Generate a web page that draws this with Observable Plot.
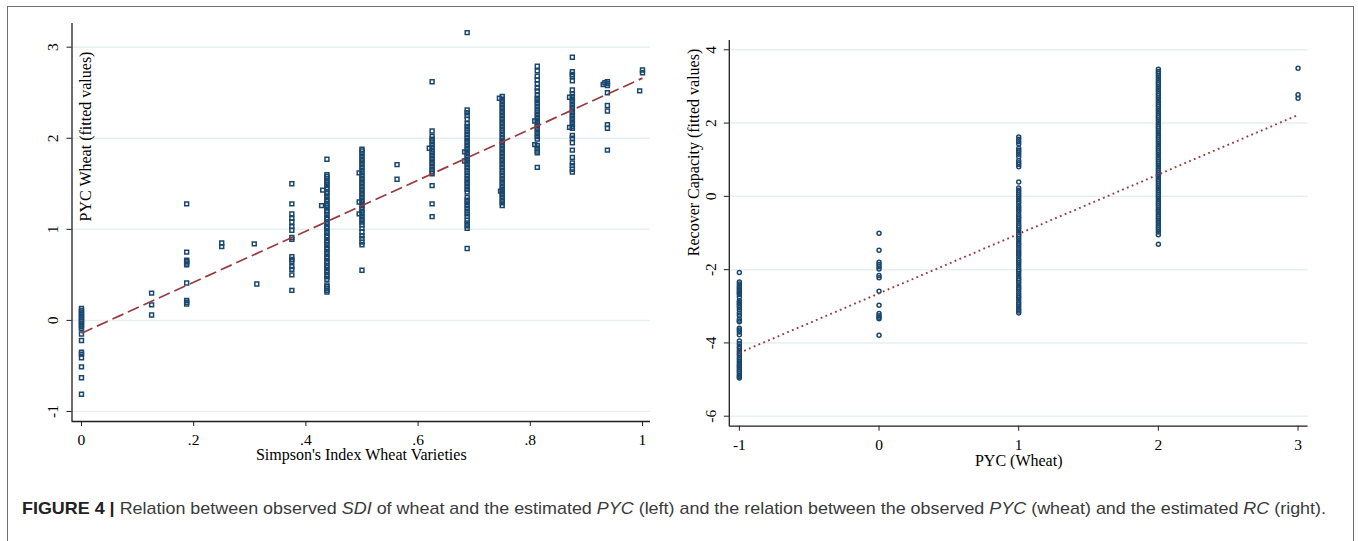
<!DOCTYPE html>
<html>
<head>
<meta charset="utf-8">
<script src="https://cdn.jsdelivr.net/npm/d3@7"></script>
<script src="https://cdn.jsdelivr.net/npm/@observablehq/plot@0.6"></script>
<style>
  html, body { margin: 0; padding: 0; background: #fff; }
  #root { position: relative; width: 1358px; height: 541px; overflow: hidden; }
  #border { position: absolute; left: 7px; top: 6px; width: 1347px; height: 560px; border: 1.5px solid #6f6f6f; box-sizing: border-box; }
  .panel { position: absolute; top: 0; }
  #caption { position: absolute; left: 22px; top: 499px; font-family: "Liberation Sans", Arial, sans-serif; font-size: 17px; color: #3a3a3a; white-space: nowrap; transform-origin: 0 0; }
  #caption b { color: #222; }
</style>
</head>
<body>
<div id="root">
  <div id="border"></div>
  <div id="left" class="panel" style="left:0px"></div>
  <div id="right" class="panel" style="left:678px"></div>
  <div id="caption"><b>FIGURE 4 |</b> Relation between observed <i>SDI</i> of wheat and the estimated <i>PYC</i> (left) and the relation between the observed <i>PYC</i> (wheat) and the estimated <i>RC</i> (right).</div>
</div>
<script>
// ---------- Left panel: SDI vs PYC (fitted) ----------
const leftTitleX = "Simpson's Index Wheat Varieties";
const leftTitleY = "PYC Wheat (fitted values)";
const leftXTicks = [0, 0.2, 0.4, 0.6, 0.8, 1];
const leftXTickLabels = ["0", ".2", ".4", ".6", ".8", "1"];
const leftYTicks = [-1, 0, 1, 2, 3];
const leftYTickLabels = ["-1", "0", "1", "2", "3"];
const leftCols = [0, 0.125, 0.1875, 0.25, 0.3125, 0.375, 0.4375, 0.5, 0.5625, 0.625, 0.6875, 0.75, 0.8125, 0.875, 0.9375, 1];
const leftVals = [
  [0.13, 0.11, 0.09, 0.07, 0.05, 0.03, 0.01, -0.01, -0.03, -0.05, -0.07, -0.09, -0.15, -0.22, -0.35, -0.37, -0.41, -0.51, -0.63, -0.81],
  [0.30, 0.17, 0.06],
  [1.28, 0.75, 0.66, 0.65, 0.63, 0.61, 0.41, 0.22, 0.20, 0.18],
  [0.85, 0.81],
  [0.40],
  [1.50, 1.28, 1.17, 1.12, 1.08, 1.03, 0.99, 0.91, 0.89, 0.70, 0.67, 0.65, 0.59, 0.56, 0.50, 0.33],
  [1.77, 1.60, 1.58, 1.56, 1.53, 1.51, 1.49, 1.46, 1.44, 1.41, 1.39, 1.36, 1.33, 1.31, 1.28, 1.26, 1.24, 1.21, 1.19, 1.16, 1.13, 1.11, 1.08, 1.06, 1.03, 1.01, 0.98, 0.96, 0.93, 0.91, 0.88, 0.86, 0.83, 0.80, 0.78, 0.75, 0.73, 0.70, 0.68, 0.65, 0.63, 0.60, 0.58, 0.55, 0.53, 0.50, 0.48, 0.45, 0.39, 0.37, 0.35, 0.33, 0.31],
  [1.88, 1.86, 1.83, 1.80, 1.77, 1.74, 1.71, 1.68, 1.65, 1.62, 1.59, 1.56, 1.53, 1.50, 1.47, 1.44, 1.41, 1.38, 1.35, 1.32, 1.29, 1.26, 1.23, 1.20, 1.17, 1.14, 1.11, 1.08, 1.05, 1.01, 0.97, 0.93, 0.90, 0.86, 0.83, 0.55],
  [1.71, 1.55],
  [2.62, 2.08, 2.02, 1.99, 1.96, 1.93, 1.90, 1.87, 1.84, 1.81, 1.78, 1.75, 1.72, 1.69, 1.66, 1.63, 1.61, 1.48, 1.28, 1.14],
  [3.16, 2.31, 2.28, 2.25, 2.21, 2.16, 2.13, 2.10, 2.07, 2.04, 2.01, 1.98, 1.95, 1.92, 1.89, 1.86, 1.83, 1.80, 1.77, 1.74, 1.71, 1.68, 1.65, 1.62, 1.59, 1.56, 1.53, 1.50, 1.47, 1.44, 1.41, 1.35, 1.32, 1.29, 1.26, 1.23, 1.20, 1.17, 1.14, 1.10, 1.07, 1.04, 1.01, 0.79],
  [2.46, 2.43, 2.40, 2.37, 2.34, 2.31, 2.28, 2.25, 2.22, 2.19, 2.16, 2.13, 2.10, 2.07, 2.04, 2.01, 1.98, 1.95, 1.92, 1.89, 1.86, 1.83, 1.80, 1.77, 1.74, 1.71, 1.68, 1.65, 1.62, 1.59, 1.56, 1.53, 1.50, 1.47, 1.44, 1.41, 1.38, 1.35, 1.32, 1.29, 1.26],
  [2.79, 2.74, 2.68, 2.64, 2.60, 2.55, 2.52, 2.47, 2.44, 2.41, 2.38, 2.35, 2.32, 2.29, 2.26, 2.23, 2.20, 2.17, 2.14, 2.11, 2.08, 2.05, 2.02, 1.99, 1.92, 1.89, 1.86, 1.84, 1.68],
  [2.89, 2.73, 2.70, 2.68, 2.63, 2.53, 2.49, 2.46, 2.43, 2.40, 2.37, 2.34, 2.31, 2.28, 2.25, 2.22, 2.19, 2.16, 2.13, 2.11, 2.03, 2.00, 1.95, 1.87, 1.79, 1.73, 1.70, 1.66, 1.63],
  [2.62, 2.60, 2.58, 2.50, 2.36, 2.30, 2.15, 2.11, 1.87],
  [2.75, 2.72]
];
// a few points that sit slightly off the main columns
const leftExtraX = [0.308, 0.43, 0.428, 0.495, 0.495, 0.495, 0.62, 0.683, 0.683, 0.745, 0.747, 0.808, 0.808, 0.87, 0.87, 0.933, 0.93, 0.995];
const leftExtraY = [0.84, 1.43, 1.26, 1.62, 1.30, 1.17, 1.89, 1.85, 1.75, 2.44, 1.42, 2.19, 1.93, 2.45, 2.12, 2.61, 2.59, 2.52];
const leftFitX = [0, 1];
const leftFitY = [-0.14, 2.66];

// ---------- Right panel: PYC vs RC (fitted) ----------
const rightTitleX = "PYC (Wheat)";
const rightTitleY = "Recover Capacity (fitted values)";
const rightXTicks = [-1, 0, 1, 2, 3];
const rightXTickLabels = ["-1", "0", "1", "2", "3"];
const rightYTicks = [-6, -4, -2, 0, 2, 4];
const rightYTickLabels = ["-6", "-4", "-2", "0", "2", "4"];
const rightCols = [-1, 0, 1, 2, 3];
const rightVals = [
  [-2.08, -2.34, -2.39, -2.45, -2.50, -2.55, -2.60, -2.64, -2.68, -2.75, -2.85, -2.89, -2.93, -2.98, -3.03, -3.10, -3.18, -3.25, -3.35, -3.40, -3.42, -3.60, -3.65, -3.70, -3.78, -3.95, -4.02, -4.10, -4.15, -4.22, -4.28, -4.33, -4.40, -4.46, -4.52, -4.58, -4.63, -4.68, -4.73, -4.78, -4.83, -4.88, -4.92, -4.96],
  [-1.01, -1.47, -1.80, -1.86, -1.92, -1.98, -2.16, -2.22, -2.59, -2.97, -3.20, -3.26, -3.30, -3.34, -3.79],
  [1.62, 1.56, 1.49, 1.43, 1.31, 1.26, 1.21, 1.15, 1.08, 0.98, 0.92, 0.87, 0.81, 0.39, 0.23, 0.17, 0.11, 0.05, -0.01, -0.07, -0.13, -0.19, -0.26, -0.32, -0.37, -0.43, -0.50, -0.56, -0.61, -0.67, -0.74, -0.80, -0.85, -0.91, -0.98, -1.04, -1.09, -1.15, -1.22, -1.28, -1.33, -1.39, -1.46, -1.52, -1.57, -1.63, -1.70, -1.76, -1.81, -1.87, -1.94, -2.00, -2.05, -2.11, -2.18, -2.24, -2.29, -2.35, -2.42, -2.48, -2.53, -2.59, -2.66, -2.72, -2.77, -2.83, -2.90, -2.96, -3.02, -3.08, -3.13, -3.18],
  [3.47, 3.41, 3.35, 3.29, 3.23, 3.17, 3.11, 3.05, 2.99, 2.93, 2.87, 2.81, 2.75, 2.69, 2.63, 2.57, 2.51, 2.45, 2.39, 2.33, 2.27, 2.21, 2.15, 2.09, 2.03, 1.97, 1.91, 1.85, 1.79, 1.73, 1.67, 1.61, 1.55, 1.49, 1.43, 1.37, 1.31, 1.25, 1.19, 1.13, 1.07, 1.01, 0.95, 0.89, 0.83, 0.77, 0.71, 0.65, 0.59, 0.53, 0.47, 0.41, 0.35, 0.29, 0.23, 0.17, 0.11, 0.05, -0.01, -0.07, -0.13, -0.19, -0.25, -0.31, -0.37, -0.43, -0.49, -0.55, -0.61, -0.67, -0.73, -0.79, -0.85, -0.91, -0.97, -1.05, -1.31],
  [3.50, 2.77, 2.68]
];
const rightFitX = [-1, 3];
const rightFitY = [-4.27, 2.22];

// ---------- build tables ----------
const leftData = leftCols.flatMap((x, i) => leftVals[i].map(y => ({x, y})))
  .concat(leftExtraX.map((x, i) => ({x, y: leftExtraY[i]})));
const leftFit = leftFitX.map((x, i) => ({x, y: leftFitY[i]}));
const rightData = rightCols.flatMap((x, i) => rightVals[i].map(y => ({x, y})));
const rightFit = rightFitX.map((x, i) => ({x, y: rightFitY[i]}));

const NAVY = "#1a476f", MAROON = "#9a3a40", GRID = "#e6eff1", AXIS = "#1e1e1e";
const FONT = "'Liberation Serif', 'Times New Roman', serif";

function panel(o) {
  return Plot.plot({
    width: 680, height: 470,
    marginLeft: o.ml, marginRight: o.mr, marginTop: o.mt, marginBottom: o.mb,
    x: {domain: o.xDomain},
    y: {domain: o.yDomain},
    style: {fontFamily: FONT, fontSize: "15.5px", color: "#000", background: "transparent", overflow: "visible"},
    marks: [
      Plot.ruleY(o.yTicks, {stroke: GRID, strokeWidth: 1.5}),
      Plot.dot(o.data, {x: "x", y: "y", symbol: o.symbol, r: o.r, stroke: NAVY, strokeWidth: 1.5, fill: "none"}),
      Plot.line(o.fit, {x: "x", y: "y", stroke: MAROON, strokeWidth: o.fitWidth, strokeDasharray: o.dash, strokeLinecap: "butt"}),
      Plot.ruleX([o.xDomain[0]], {stroke: AXIS, strokeWidth: 1.3}),
      Plot.ruleY([o.yDomain[0]], {stroke: AXIS, strokeWidth: 1.3}),
      Plot.axisX({ticks: o.xTicks, tickFormat: (d, i) => o.xTickLabels[i], tickSize: 5, tickPadding: o.xPad, label: null, stroke: AXIS, fontSize: 15.5}),
      Plot.axisY({ticks: o.yTicks, tickFormat: () => "", tickSize: 5, label: null, stroke: AXIS}),
      Plot.text(o.yTicks, {y: d => d, text: (d, i) => o.yTickLabels[i], frameAnchor: "left", dx: o.yLabDx, rotate: -90, textAnchor: "middle", lineAnchor: "middle", fontSize: 15.5}),
      Plot.text([o.titleY], {frameAnchor: "top-left", dx: o.tyDx, dy: o.tyDy, rotate: -90, textAnchor: "middle", lineAnchor: "middle", fontSize: 16}),
      Plot.text([o.titleX], {frameAnchor: "bottom", dy: o.txDy, textAnchor: "middle", lineAnchor: "middle", fontSize: 16})
    ]
  });
}

document.getElementById("left").appendChild(panel({
  ml: 71.5, mr: 30, mt: 23, mb: 49,
  xDomain: [-0.0169, 1.0143], yDomain: [-1.110, 3.260],
  xTicks: leftXTicks, xTickLabels: leftXTickLabels,
  yTicks: leftYTicks, yTickLabels: leftYTickLabels,
  data: leftData, fit: leftFit, symbol: "square", r: 2.2,
  dash: "12,5", fitWidth: 1.7, xPad: 7, yLabDx: -18.5,
  titleY: leftTitleY, tyDx: 13.5, tyDy: 113,
  titleX: leftTitleX, txDy: 33
}));

document.getElementById("right").appendChild(panel({
  ml: 50.8, mr: 50.4, mt: 40, mb: 44.3,
  xDomain: [-1.072, 3.072], yDomain: [-6.273, 4.254],
  xTicks: rightXTicks, xTickLabels: rightXTickLabels,
  yTicks: rightYTicks, yTickLabels: rightYTickLabels,
  data: rightData, fit: rightFit, symbol: "circle", r: 2,
  dash: "1.8,3.4", fitWidth: 1.9, xPad: 8, yLabDx: -18,
  titleY: rightTitleY, tyDx: -35.8, tyDy: 112,
  titleX: rightTitleX, txDy: 35
}));

// fit caption width to the reference (22px -> 1326px)
const cap = document.getElementById("caption");
const w = cap.getBoundingClientRect().width;
cap.style.transform = `scaleX(${1304 / w})`;
</script>
</body>
</html>
